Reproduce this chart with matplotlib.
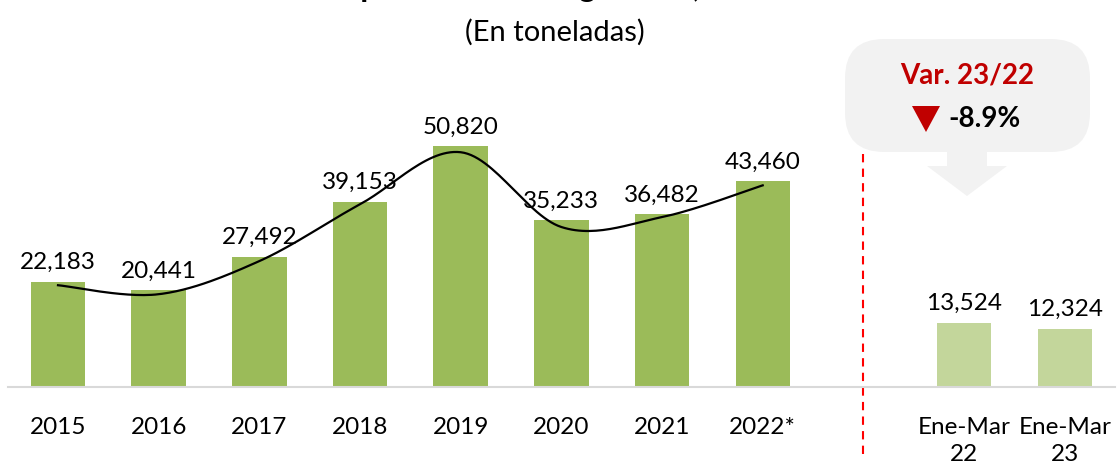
import matplotlib

matplotlib.use("Agg")
import matplotlib.pyplot as plt
import numpy as np
from matplotlib.patches import FancyBboxPatch, Polygon
from matplotlib.lines import Line2D

plt.rcParams["font.family"] = ["Lato", "DejaVu Sans"]

# annual series
years = ["2015", "2016", "2017", "2018", "2019", "2020", "2021", "2022*"]
tons = [22183, 20441, 27492, 39153, 50820, 35233, 36482, 43460]
# smoothed trend line
trend = [21500, 19600, 26600, 38600, 49600, 33800, 35900, 42600]
# first quarter comparison
quarter_labels = ["Ene-Mar\n22", "Ene-Mar\n23"]
quarter_tons = [13524, 12324]
variation = "-8.9%"

W, H = 1117, 464


def fig_xy(px, py):
    """pixel position (from top-left) -> figure fraction"""
    return px / W, 1 - py / H


def catmull_rom(xs, ys, n=30):
    xs = np.asarray(xs, float)
    ys = np.asarray(ys, float)
    out_x, out_y = [], []
    last = len(xs) - 1
    for i in range(last):
        i0, i3 = max(i - 1, 0), min(i + 2, last)
        t = np.linspace(0, 1, n)
        for arr, out in ((xs, out_x), (ys, out_y)):
            p0, p1, p2, p3 = arr[i0], arr[i], arr[i + 1], arr[i3]
            out.extend(0.5 * (2 * p1 + (-p0 + p2) * t
                              + (2 * p0 - 5 * p1 + 4 * p2 - p3) * t ** 2
                              + (-p0 + 3 * p1 - 3 * p2 + p3) * t ** 3))
    return np.array(out_x), np.array(out_y)


fig = plt.figure(figsize=(W / 100, H / 100), dpi=100)
ax = fig.add_axes([7.65 / W, 76 / H, 1107.4 / W, 284 / H])

x_years = np.arange(len(years))
x_quarters = np.arange(len(quarter_labels)) + len(years) + 1

ax.bar(x_years, tons, width=0.54, color="#9BBB59", zorder=2)
ax.bar(x_quarters, quarter_tons, width=0.54, color="#C3D69B", zorder=2)

lx, ly = catmull_rom(x_years, trend)
ax.plot(lx, ly, color="black", linewidth=1.6, zorder=3)

for xi, v in zip(list(x_years) + list(x_quarters), tons + quarter_tons):
    ax.annotate(f"{v:,}", (xi, v), xytext=(0, 7), textcoords="offset points",
                ha="center", va="bottom", fontsize=17.5, color="black", zorder=4)

ax.set_xlim(-0.5, 10.5)
ax.set_ylim(0, 60000)
ax.set_xticks(list(x_years) + list(x_quarters), years + quarter_labels)
ax.tick_params(axis="x", length=0, pad=21, labelsize=17.5)
for lbl in ax.get_xticklabels():
    lbl.set_linespacing(1.35)
ax.set_yticks([])
for side in ("left", "right", "top"):
    ax.spines[side].set_visible(False)
ax.spines["bottom"].set_color("#D9D9D9")
ax.spines["bottom"].set_linewidth(1.5)

# separator between annual and quarterly data
sep_x = len(years)
ax.add_line(Line2D([sep_x, sep_x], [-14100, 49800], color="#FF0000",
                   linestyle=(0, (4, 3)), linewidth=1.5, clip_on=False, zorder=1))

# title (top part cut off in the source) and subtitle
fig.text(*fig_xy(555, -3), "Perú: Exportaciones de granada, 2015-2023", ha="center",
         va="baseline", fontsize=23, fontweight="bold")
fig.text(*fig_xy(555, 32), "(En toneladas)", ha="center", va="center", fontsize=21)

# variation callout
x0, y0 = fig_xy(845, 153)
x1, y1 = fig_xy(1090, 40)
box = FancyBboxPatch((x0, y0), x1 - x0, y1 - y0, boxstyle="round,pad=0,rounding_size=0.035",
                     transform=fig.transFigure, facecolor="#F2F2F2", edgecolor="none",
                     mutation_aspect=W / H)
fig.patches.append(box)
arrow_px = [(947, 152), (987, 152), (987, 167), (1007, 167), (967, 197), (927, 167), (947, 167)]
fig.patches.append(Polygon([fig_xy(*p) for p in arrow_px], closed=True, transform=fig.transFigure,
                           facecolor="#F2F2F2", edgecolor="none"))
fig.text(*fig_xy(967, 76), "Var. 23/22", ha="center", va="center", fontsize=20,
         fontweight="bold", color="#C00000")
tri_px = [(912, 107), (940, 107), (926, 133)]
fig.patches.append(Polygon([fig_xy(*p) for p in tri_px], closed=True, transform=fig.transFigure,
                           facecolor="#C00000", edgecolor="none"))
fig.text(*fig_xy(985, 119), variation, ha="center", va="center", fontsize=20,
         fontweight="bold", color="black")

fig.savefig("out.png", dpi=100)
